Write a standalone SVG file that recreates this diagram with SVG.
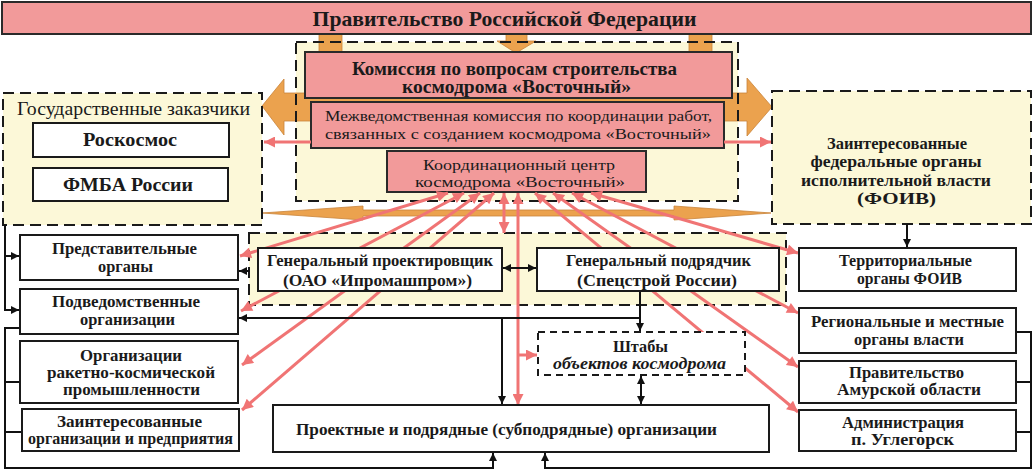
<svg xmlns="http://www.w3.org/2000/svg" width="1034" height="471" viewBox="0 0 1034 471">
<defs>
<style>
.t{font-family:"Liberation Serif","DejaVu Serif",serif;fill:#1a1a1a;text-anchor:middle}
.b{font-weight:bold}
.pk{fill:#f29a9a;stroke:#2a2a2a;stroke-width:2}
.wb{fill:#ffffff;stroke:#1a1a1a;stroke-width:2}
.yf{fill:#fcf8d8}
.ds{fill:none;stroke:#1a1a1a;stroke-width:2;stroke-dasharray:11 6}
.or{fill:#eba24e;stroke:#c9843a;stroke-width:0.8}
.pl{fill:none;stroke:#f07474;stroke-width:3}
.bl{fill:none;stroke:#111;stroke-width:2}
</style>
<marker id="ab" viewBox="0 0 10 10" refX="10" refY="5" markerWidth="9" markerHeight="8" markerUnits="userSpaceOnUse" orient="auto-start-reverse"><path d="M0,0 L10,5 L0,10 z" fill="#111"/></marker>
<marker id="ap" viewBox="0 0 10 10" refX="10" refY="5" markerWidth="13" markerHeight="11" markerUnits="userSpaceOnUse" orient="auto-start-reverse"><path d="M0,0 L10,5 L0,10 z" fill="#f07474"/></marker>
</defs>
<rect width="1034" height="471" fill="#ffffff"/>

<!-- background containers -->
<rect class="yf" x="296" y="42" width="442" height="159"/>
<rect class="yf" x="3" y="93" width="259" height="132"/>
<rect class="yf" x="772" y="91" width="259" height="133"/>
<rect class="yf" x="249" y="233" width="537" height="72"/>

<!-- orange arrows -->
<g id="orange-arrows">
<rect class="or" x="319" y="33" width="23" height="22"/>
<rect class="or" x="689" y="33" width="23" height="22"/>
<path class="or" d="M506,33 H527 V41 H536 L516,53 L497,41 H506 Z"/>
<path class="or" d="M262,106 L284,79 L284,93 L747,93 L747,78 L772,107 L747,136 L747,121 L284,121 L284,135 Z"/>
<path class="or" d="M262,213 L363,206 L363,210 L674,210 L674,206 L771,213 L674,220 L674,216 L363,216 L363,220 Z"/>
</g>

<!-- dashed container strokes -->
<rect class="ds" x="296" y="42" width="442" height="159"/>
<rect class="ds" x="3" y="93" width="259" height="132"/>
<rect class="ds" x="772" y="91" width="259" height="133"/>
<rect class="ds" x="249" y="233" width="537" height="72"/>

<g id="gov">
<rect class="pk" x="2" y="2" width="1029" height="32"/>
<text class="t b" x="504.5" y="26" font-size="22" textLength="384" lengthAdjust="spacingAndGlyphs">Правительство Российской Федерации</text>
</g>

<g id="commission">
<rect class="pk" x="305" y="52" width="427" height="46"/>
<text class="t b" x="514.5" y="75" font-size="18" textLength="325" lengthAdjust="spacingAndGlyphs">Комиссия по вопросам строительства</text>
<text class="t b" x="516.5" y="93" font-size="18" textLength="229" lengthAdjust="spacingAndGlyphs">космодрома «Восточный»</text>
</g>

<g id="interdep">
<rect class="pk" x="311" y="102" width="413" height="46"/>
<text class="t" x="518.5" y="121" font-size="15" textLength="387" lengthAdjust="spacingAndGlyphs">Межведомственная комиссия по координации работ,</text>
<text class="t" x="518" y="139" font-size="15" textLength="386" lengthAdjust="spacingAndGlyphs">связанных с созданием космодрома «Восточный»</text>
</g>

<g id="coord">
<rect class="pk" x="387" y="151" width="259" height="41"/>
<text class="t" x="519" y="170" font-size="15" textLength="192" lengthAdjust="spacingAndGlyphs">Координационный центр</text>
<text class="t" x="520" y="187" font-size="15" textLength="210" lengthAdjust="spacingAndGlyphs">космодрома «Восточный»</text>
</g>

<g id="customers">
<text class="t" x="133.5" y="115" font-size="18" textLength="233" lengthAdjust="spacingAndGlyphs">Государственные заказчики</text>
</g>
<g id="roscosmos">
<rect class="wb" x="33" y="123" width="196" height="34"/>
<text class="t b" x="130" y="146" font-size="18" textLength="94" lengthAdjust="spacingAndGlyphs">Роскосмос</text>
</g>
<g id="fmba">
<rect class="wb" x="33" y="168" width="195" height="33"/>
<text class="t b" x="128" y="191" font-size="19" textLength="130" lengthAdjust="spacingAndGlyphs">ФМБА России</text>
</g>

<g id="foiv">
<text class="t b" x="897" y="149" font-size="17" textLength="140" lengthAdjust="spacingAndGlyphs">Заинтересованные</text>
<text class="t b" x="896" y="167" font-size="17" textLength="171" lengthAdjust="spacingAndGlyphs">федеральные органы</text>
<text class="t b" x="896" y="186" font-size="17" textLength="190" lengthAdjust="spacingAndGlyphs">исполнительной власти</text>
<text class="t b" x="896.5" y="204" font-size="17" textLength="79" lengthAdjust="spacingAndGlyphs">(ФОИВ)</text>
</g>

<!-- connectors -->
<g id="connectors">
<path class="pl" d="M311,142 H264" marker-end="url(#ap)"/>
<path class="pl" d="M724,142 H771" marker-end="url(#ap)"/>
<path class="pl" d="M448,193 L240,256" marker-start="url(#ap)" marker-end="url(#ap)"/>
<path class="pl" d="M464,193 L241,311" marker-start="url(#ap)" marker-end="url(#ap)"/>
<path class="pl" d="M480,193 L242,365" marker-start="url(#ap)" marker-end="url(#ap)"/>
<path class="pl" d="M494,193 L242,410" marker-start="url(#ap)" marker-end="url(#ap)"/>
<path class="pl" d="M504,193 V233" marker-start="url(#ap)" marker-end="url(#ap)"/>
<path class="pl" d="M518,193 V405" marker-start="url(#ap)" marker-end="url(#ap)"/>
<path class="pl" d="M518,355 H537" marker-end="url(#ap)"/>
<path class="pl" d="M535,193 L798,412" marker-start="url(#ap)" marker-end="url(#ap)"/>
<path class="pl" d="M553,193 L798,367" marker-start="url(#ap)" marker-end="url(#ap)"/>
<path class="pl" d="M572,193 L798,313" marker-start="url(#ap)" marker-end="url(#ap)"/>
<path class="pl" d="M591,193 L798,253" marker-start="url(#ap)" marker-end="url(#ap)"/>

<path class="bl" d="M5,225 V310 H19" marker-end="url(#ab)"/>
<path class="bl" d="M5,256 H19" marker-end="url(#ab)"/>
<path class="bl" d="M20,328 H5 V468 H493 V453" marker-end="url(#ab)"/>
<path class="bl" d="M5,382 H20 M5,432 H22"/>
<path class="bl" d="M907,224 V247" marker-end="url(#ab)"/>
<path class="bl" d="M1016,332 H1031 V468 H545 V453" marker-end="url(#ab)"/>
<path class="bl" d="M1016,382 H1031 M1016,432 H1031"/>
<path class="bl" d="M503,268 H536" marker-start="url(#ab)" marker-end="url(#ab)"/>
<path class="bl" d="M250,271 H239" marker-end="url(#ab)"/>
<path class="bl" d="M640,291 V331" marker-end="url(#ab)"/>
<path class="bl" d="M640,318 H239" marker-end="url(#ab)"/>
<path class="bl" d="M502,318 V404" marker-end="url(#ab)"/>
<path class="bl" d="M641,376 V404" marker-start="url(#ab)" marker-end="url(#ab)"/>
</g>

<g id="designer">
<rect class="wb" x="258" y="248" width="244" height="43"/>
<text class="t b" x="380" y="266" font-size="16" textLength="226" lengthAdjust="spacingAndGlyphs">Генеральный проектировщик</text>
<text class="t b" x="377.5" y="286" font-size="16" textLength="189" lengthAdjust="spacingAndGlyphs">(ОАО «Ипромашпром»)</text>
</g>
<g id="contractor">
<rect class="wb" x="537" y="248" width="242" height="43"/>
<text class="t b" x="658.5" y="266" font-size="16" textLength="185" lengthAdjust="spacingAndGlyphs">Генеральный подрядчик</text>
<text class="t b" x="657" y="286" font-size="16" textLength="160" lengthAdjust="spacingAndGlyphs">(Спецстрой России)</text>
</g>

<g id="representative">
<rect class="wb" x="20" y="235" width="218" height="45"/>
<text class="t b" x="124.5" y="254" font-size="16" textLength="145" lengthAdjust="spacingAndGlyphs">Представительные</text>
<text class="t b" x="125.5" y="272" font-size="16" textLength="55" lengthAdjust="spacingAndGlyphs">органы</text>
</g>
<g id="subordinate">
<rect class="wb" x="20" y="289" width="218" height="45"/>
<text class="t b" x="126" y="307" font-size="16" textLength="148" lengthAdjust="spacingAndGlyphs">Подведомственные</text>
<text class="t b" x="127.5" y="325" font-size="16" textLength="95" lengthAdjust="spacingAndGlyphs">организации</text>
</g>
<g id="rocket">
<rect class="wb" x="20" y="341" width="218" height="62"/>
<text class="t b" x="131" y="361" font-size="16" textLength="102" lengthAdjust="spacingAndGlyphs">Организации</text>
<text class="t b" x="131" y="378" font-size="16" textLength="168" lengthAdjust="spacingAndGlyphs">ракетно-космической</text>
<text class="t b" x="131.5" y="395" font-size="16" textLength="137" lengthAdjust="spacingAndGlyphs">промышленности</text>
</g>
<g id="interested">
<rect class="wb" x="22" y="409" width="217" height="42"/>
<text class="t b" x="129.5" y="427" font-size="16" textLength="145" lengthAdjust="spacingAndGlyphs">Заинтересованные</text>
<text class="t b" x="130.5" y="444" font-size="16" textLength="205" lengthAdjust="spacingAndGlyphs">организации и предприятия</text>
</g>

<g id="territorial">
<rect class="wb" x="799" y="248" width="217" height="43"/>
<text class="t b" x="905.5" y="266" font-size="16" textLength="133" lengthAdjust="spacingAndGlyphs">Территориальные</text>
<text class="t b" x="909.5" y="284" font-size="16" textLength="105" lengthAdjust="spacingAndGlyphs">органы ФОИВ</text>
</g>
<g id="regional">
<rect class="wb" x="799" y="308" width="217" height="45"/>
<text class="t b" x="907.5" y="327" font-size="16" textLength="193" lengthAdjust="spacingAndGlyphs">Региональные и местные</text>
<text class="t b" x="909" y="345" font-size="16" textLength="110" lengthAdjust="spacingAndGlyphs">органы власти</text>
</g>
<g id="amur">
<rect class="wb" x="799" y="361" width="217" height="42"/>
<text class="t b" x="906.5" y="378" font-size="16" textLength="115" lengthAdjust="spacingAndGlyphs">Правительство</text>
<text class="t b" x="909" y="395" font-size="16" textLength="144" lengthAdjust="spacingAndGlyphs">Амурской области</text>
</g>
<g id="uglegorsk">
<rect class="wb" x="799" y="410" width="217" height="41"/>
<text class="t b" x="903" y="428" font-size="16" textLength="122" lengthAdjust="spacingAndGlyphs">Администрация</text>
<text class="t b" x="902.5" y="445" font-size="16" textLength="103" lengthAdjust="spacingAndGlyphs">п. Углегорск</text>
</g>

<g id="hq">
<rect x="538" y="332" width="207" height="43" fill="#ffffff" stroke="#1a1a1a" stroke-width="2" stroke-dasharray="7 5"/>
<text class="t b" x="640.5" y="352" font-size="16" textLength="55" lengthAdjust="spacingAndGlyphs">Штабы</text>
<text class="t b" x="639.5" y="369" font-size="16" font-style="italic" textLength="173" lengthAdjust="spacingAndGlyphs">объектов космодрома</text>
</g>

<g id="subcontractors">
<rect class="wb" x="273" y="405" width="496" height="47"/>
<text class="t b" x="506.5" y="435" font-size="17" textLength="421" lengthAdjust="spacingAndGlyphs">Проектные и подрядные (субподрядные) организации</text>
</g>
</svg>
